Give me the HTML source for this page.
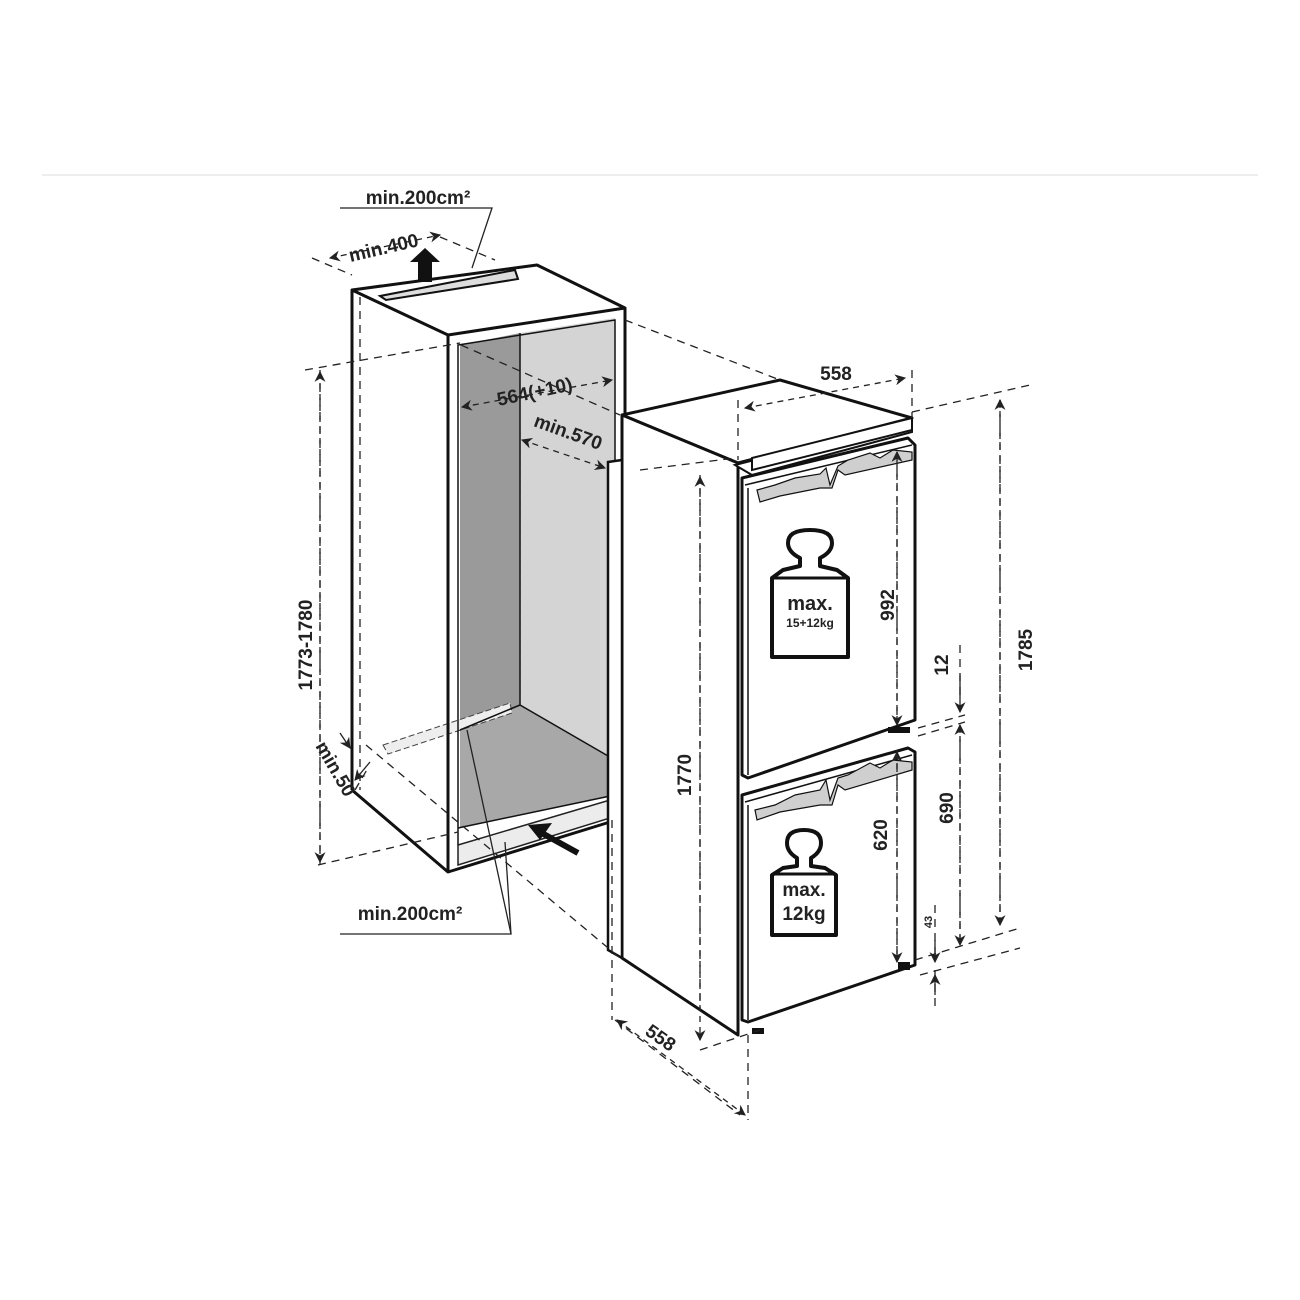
<!DOCTYPE html>
<html><head><meta charset="utf-8"><style>
html,body{margin:0;padding:0;background:#fff;}
svg{display:block;}
text{font-family:"Liberation Sans",sans-serif;font-weight:bold;fill:#222;}
</style></head><body>
<svg width="1300" height="1300" viewBox="0 0 1300 1300" xmlns="http://www.w3.org/2000/svg">
<defs>
<marker id="a" viewBox="0 0 10 10" refX="9" refY="5" markerWidth="11" markerHeight="11" markerUnits="userSpaceOnUse" orient="auto-start-reverse"><path d="M0,0 L10,5 L0,10 L3,5 z" fill="#222"/></marker>
</defs>
<line x1="42" y1="175" x2="1258" y2="175" stroke="#ddd" stroke-width="1"/>

<polygon points="460,345 520,333 520,705 460,730" fill="#9a9a9a"/>
<polygon points="520,333 615,318 615,760 520,705" fill="#d4d4d4"/>
<polygon points="460,730 520,705 615,760 615,795 460,828" fill="#a8a8a8"/>
<polygon points="458,828 615,795 615,805 458,840" fill="#fff"/>
<polygon points="383,745 510,703 512,713 388,754" fill="#eee" stroke="#444" stroke-width="1" stroke-dasharray="6,3"/>
<polygon points="458,845 610,800 610,818 458,865" fill="#ececec" stroke="#222" stroke-width="1.5"/>
<polygon points="380,296 515,270 518,279 386,300" fill="#ddd" stroke="#111" stroke-width="2"/>

<g fill="none" stroke="#111" stroke-width="3" stroke-linejoin="round">
<polyline points="352,790 352,290 537,265 625,308 448,335 352,290"/>
<line x1="448" y1="335" x2="448" y2="872"/>
<polyline points="352,790 448,872 610,822"/>
<line x1="625" y1="308" x2="625" y2="460"/>
</g>
<g fill="none" stroke="#111" stroke-width="1.5">
<polyline points="458,845 458,345 615,320 615,800"/>
<line x1="458" y1="828" x2="615" y2="795"/>
<line x1="520" y1="333" x2="520" y2="705"/>
<line x1="460" y1="730" x2="520" y2="705"/>
<line x1="520" y1="705" x2="615" y2="760"/>
</g>
<path d="M418,282 L418,262 L410,262 L425,248 L440,262 L432,262 L432,282 z" fill="#111"/>
<line x1="578" y1="853" x2="540" y2="832" stroke="#111" stroke-width="6"/>
<path d="M528,825 L552,823 L540,840 z" fill="#111"/>

<polygon points="622,415 780,380 912,418 738,463" fill="#fff" stroke="#111" stroke-width="3" stroke-linejoin="round"/>
<polygon points="622,415 738,463 738,1035 622,958" fill="#fff" stroke="#111" stroke-width="3" stroke-linejoin="round"/>
<polygon points="608,462 622,460 622,958 608,950" fill="#fff" stroke="#111" stroke-width="2.5"/>
<polygon points="735,465 912,420 912,432 752,475" fill="#fff" stroke="#111" stroke-width="2"/>
<polygon points="752,458 912,418 912,430 752,470" fill="#fff" stroke="#111" stroke-width="2"/>
<polygon points="742,478 908,438 915,445 915,720 748,778 742,775" fill="#fff" stroke="#111" stroke-width="3" stroke-linejoin="round"/>
<line x1="748" y1="488" x2="748" y2="775" stroke="#111" stroke-width="1.5"/>
<line x1="745" y1="485" x2="912" y2="445" stroke="#111" stroke-width="1.5"/>
<polygon points="757,490 775,485 795,478 820,474 826,468 830,485 838,466 848,460 870,453 880,458 893,450 912,452 912,460 845,475 838,470 832,488 820,488 780,496 760,502" fill="#cfcfcf" stroke="#111" stroke-width="1.2"/>
<polygon points="742,795 908,748 915,752 915,965 748,1022 742,1020" fill="#fff" stroke="#111" stroke-width="3" stroke-linejoin="round"/>
<line x1="748" y1="805" x2="748" y2="1020" stroke="#111" stroke-width="1.5"/>
<line x1="745" y1="802" x2="912" y2="755" stroke="#111" stroke-width="1.5"/>
<polygon points="755,810 775,805 795,795 820,790 826,780 830,800 838,778 848,775 870,763 880,768 893,760 912,762 912,770 845,790 838,785 832,805 820,805 780,812 757,820" fill="#cfcfcf" stroke="#111" stroke-width="1.2"/>
<rect x="888" y="727" width="22" height="6" fill="#111"/>
<rect x="898" y="962" width="12" height="8" fill="#111"/>
<rect x="752" y="1028" width="12" height="6" fill="#111"/>

<g fill="#fff" stroke="#111" stroke-width="4" stroke-linejoin="round">
<path d="M772,578 L783,570 L800,566 L800,558 Q788,552 788,543 Q788,530 810,530 Q832,530 832,543 Q832,552 820,558 L820,566 L837,570 L848,578 L848,657 L772,657 z"/>
<path d="M772,890 L772,875 L783,868 L797,866 L797,858 Q787,852 787,843 Q787,830 804,830 Q821,830 821,843 Q821,852 811,858 L811,866 L825,868 L836,875 L836,935 L772,935 z"/>
</g>
<line x1="772" y1="578" x2="848" y2="578" stroke="#111" stroke-width="3"/>
<line x1="772" y1="874" x2="836" y2="874" stroke="#111" stroke-width="3"/>
<text x="810" y="610" font-size="20" text-anchor="middle">max.</text>
<text x="810" y="627" font-size="12" text-anchor="middle" font-weight="normal">15+12kg</text>
<text x="804" y="896" font-size="19" text-anchor="middle">max.</text>
<text x="804" y="920" font-size="19" text-anchor="middle">12kg</text>

<g fill="none" stroke="#222" stroke-width="1.3" stroke-dasharray="8,6">
<line x1="312" y1="258" x2="352" y2="275"/>
<line x1="440" y1="237" x2="495" y2="260"/>
<line x1="305" y1="370" x2="460" y2="343"/>
<line x1="625" y1="320" x2="780" y2="380"/>
<line x1="461" y1="345" x2="620" y2="415"/>
<line x1="360" y1="297" x2="360" y2="790"/>
<line x1="320" y1="370" x2="320" y2="865"/>
<line x1="318" y1="865" x2="458" y2="832"/>
<line x1="366" y1="745" x2="620" y2="958"/>
<line x1="355" y1="790" x2="368" y2="768"/>
<line x1="520" y1="705" x2="520" y2="430" stroke-dasharray="5,5"/>
<line x1="612" y1="820" x2="612" y2="1020"/>
<line x1="640" y1="470" x2="735" y2="458"/>
<line x1="738" y1="400" x2="738" y2="460"/>
<line x1="912" y1="370" x2="912" y2="418"/>
<line x1="912" y1="412" x2="1030" y2="385"/>
<line x1="700" y1="475" x2="700" y2="1010"/>
<line x1="748" y1="1035" x2="748" y2="1120"/>
<line x1="700" y1="1050" x2="760" y2="1030"/>
<line x1="615" y1="1020" x2="740" y2="1115"/>
<line x1="897" y1="455" x2="897" y2="715"/>
<line x1="897" y1="750" x2="897" y2="960"/>
<line x1="960" y1="645" x2="960" y2="700"/>
<line x1="918" y1="728" x2="965" y2="715"/>
<line x1="918" y1="736" x2="965" y2="722"/>
<line x1="960" y1="725" x2="960" y2="940"/>
<line x1="1000" y1="400" x2="1000" y2="925"/>
<line x1="915" y1="960" x2="1020" y2="928"/>
<line x1="920" y1="975" x2="1020" y2="948"/>
<line x1="935" y1="905" x2="935" y2="960"/>
<line x1="935" y1="970" x2="935" y2="1010"/>
</g>
<g fill="none" stroke="#222" stroke-width="1.3" stroke-dasharray="6,5" marker-start="url(#a)" marker-end="url(#a)">
<line x1="330" y1="258" x2="440" y2="235"/>
<line x1="462" y1="407" x2="612" y2="380"/>
<line x1="522" y1="440" x2="605" y2="468"/>
<line x1="745" y1="408" x2="905" y2="378"/>
<line x1="320" y1="372" x2="320" y2="862"/>
<line x1="700" y1="477" x2="700" y2="1040"/>
<line x1="897" y1="452" x2="897" y2="725"/>
<line x1="897" y1="752" x2="897" y2="962"/>
<line x1="1000" y1="400" x2="1000" y2="925"/>
<line x1="960" y1="725" x2="960" y2="945"/>
<line x1="617" y1="1020" x2="745" y2="1115"/>
</g>
<g stroke="#222" stroke-width="1.3" fill="none">
<line x1="340" y1="733" x2="350" y2="748" marker-end="url(#a)"/>
<line x1="355" y1="780" x2="370" y2="762" marker-start="url(#a)"/>
<line x1="960" y1="675" x2="960" y2="712" marker-end="url(#a)"/>
<line x1="935" y1="940" x2="935" y2="962" marker-end="url(#a)"/>
<line x1="935" y1="995" x2="935" y2="975" marker-end="url(#a)"/>
<polyline points="340,208 492,208 472,268"/>
<polyline points="340,934 511,934 467,730"/>
<line x1="511" y1="934" x2="505" y2="842"/>
</g>

<text x="418" y="204" font-size="19" text-anchor="middle">min.200cm²</text>
<text x="410" y="920" font-size="19" text-anchor="middle">min.200cm²</text>
<text font-size="19" transform="translate(385,254) rotate(-13)" text-anchor="middle">min.400</text>
<text font-size="19" transform="translate(536,398) rotate(-12)" text-anchor="middle">564(+10)</text>
<text font-size="19" transform="translate(566,438) rotate(20)" text-anchor="middle">min.570</text>
<text font-size="19" x="836" y="380" text-anchor="middle">558</text>
<text font-size="19" transform="translate(312,645) rotate(-90)" text-anchor="middle">1773-1780</text>
<text font-size="19" transform="translate(330,772) rotate(60)" text-anchor="middle">min.50</text>
<text font-size="19" transform="translate(691,775) rotate(-90)" text-anchor="middle">1770</text>
<text font-size="19" transform="translate(894,605) rotate(-90)" text-anchor="middle">992</text>
<text font-size="19" transform="translate(948,665) rotate(-90)" text-anchor="middle">12</text>
<text font-size="19" transform="translate(1032,650) rotate(-90)" text-anchor="middle">1785</text>
<text font-size="19" transform="translate(953,808) rotate(-90)" text-anchor="middle">690</text>
<text font-size="19" transform="translate(887,835) rotate(-90)" text-anchor="middle">620</text>
<text font-size="11" transform="translate(932,922) rotate(-90)" text-anchor="middle">43</text>
<text font-size="19" transform="translate(657,1043) rotate(35)" text-anchor="middle">558</text>
</svg>
</body></html>
